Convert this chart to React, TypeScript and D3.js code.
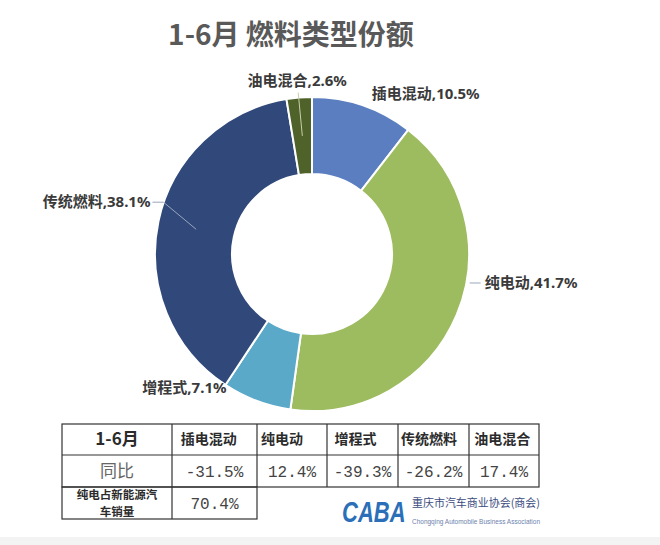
import * as d3 from "d3";

// slice data, clockwise from 12 o'clock
const categories = ["插电混动", "纯电动", "增程式", "传统燃料", "油电混合"];
const shares = [10.5, 41.7, 7.1, 38.1, 2.6];
const colors = ["#5a7ebf", "#9dbb5f", "#5aa9c9", "#30497a", "#4f6229"];

// table
const tableHeadLabel = "1-6月";
const yoyLabel = "同比";
const yoyValues = ["-31.5%", "12.4%", "-39.3%", "-26.2%", "17.4%"];
const bevShareLabel = ["纯电占新能源汽", "车销量"];
const bevShareValue = "70.4%";

// label placement (offsets from outer edge at mid angle)
const labelStyle = [
  { dx: 9, dy: -12, anchor: "start", leader: false },
  { dx: 28, dy: -32, anchor: "start", leader: true },
  { dx: -30, dy: -13, anchor: "end", leader: false },
  { dx: -8, dy: -19, anchor: "end", leader: true },
  { dx: -2, dy: -17, anchor: "middle", leader: true },
];

const W = 660;
const H = 545;
const cx = 312;
const cy = 254;
const rOuter = 157;
const rInner = 80;

const labelFont = "'Noto Sans', 'Noto Sans CJK SC', sans-serif";
const cjk = "'Noto Sans CJK SC', sans-serif";

export default function App() {
  const pie = d3
    .pie<number>()
    .sort(null)
    .value((d) => d);
  const arcs = pie(shares);
  const arc = d3.arc<d3.PieArcDatum<number>>().innerRadius(rInner).outerRadius(rOuter);
  const mid = (a: d3.PieArcDatum<number>) => (a.startAngle + a.endAngle) / 2;
  const polar = (ang: number, r: number): [number, number] => [
    Math.sin(ang) * r,
    -Math.cos(ang) * r,
  ];

  // table geometry
  const colX = [62, 172, 257, 327, 398, 469, 539];
  const rowY = [424, 455, 487, 519];
  const x = d3.scaleBand<number>().domain(d3.range(5)).range([colX[1], colX[6]]);

  return (
    <div style={{ position: "absolute", left: 0, top: 0 }}>
      <svg width={W} height={H} style={{ display: "block", background: "#fff" }}>
        <rect x={0} y={537} width={W} height={8} fill="#f3f3f3" />
        <text
          x={291}
          y={45}
          textAnchor="middle"
          fontFamily={cjk}
          fontWeight="bold"
          fontSize={28}
          fill="#595959"
        >
          1-6月 燃料类型份额
        </text>

        <g transform={`translate(${cx},${cy})`}>
          {arcs.map((a, i) => (
            <path key={i} d={arc(a) ?? ""} fill={colors[i]} stroke="#fff" strokeWidth={2} />
          ))}
          {arcs.map((a, i) => {
            const s = labelStyle[i];
            const [ox, oy] = polar(mid(a), rOuter);
            const lx = ox + s.dx;
            const ly = oy + s.dy;
            const [mx, my] = polar(mid(a), (rOuter + rInner) / 2);
            let leader = "";
            if (s.leader) {
              if (s.anchor === "middle") {
                leader = `M${mx},${my}L${lx + 1},${ly + 12}`;
              } else if (s.anchor === "end") {
                leader = `M${mx},${my}L${lx + 13},${ly}L${lx + 2},${ly}`;
              } else {
                leader = `M${lx - 15},${ly}L${lx - 4},${ly}`;
              }
            }
            return (
              <g key={"l" + i}>
                {leader && (
                  <path d={leader} fill="none" stroke={i === 4 ? "#c9cfae" : "#9aa6bd"} strokeWidth={1} />
                )}
                <text
                  x={lx}
                  y={ly}
                  dy="0.35em"
                  textAnchor={s.anchor}
                  fontFamily={labelFont}
                  fontWeight="bold"
                  fontSize={15}
                  fill="#3a3a3a"
                >
                  {categories[i]},{shares[i].toFixed(1)}%
                </text>
              </g>
            );
          })}
        </g>

        {/* table */}
        <g stroke="#333" strokeWidth={1.2} fill="none">
          <rect x={colX[0]} y={rowY[0]} width={colX[6] - colX[0]} height={rowY[2] - rowY[0]} />
          <line x1={colX[0]} x2={colX[6]} y1={rowY[1]} y2={rowY[1]} />
          {colX.slice(1, 6).map((cxv, i) => (
            <line key={i} x1={cxv} x2={cxv} y1={rowY[0]} y2={rowY[2]} />
          ))}
          <rect x={colX[0]} y={rowY[2]} width={colX[2] - colX[0]} height={rowY[3] - rowY[2]} />
          <line x1={colX[1]} x2={colX[1]} y1={rowY[2]} y2={rowY[3]} />
        </g>
        <g fill="#2b2b2b">
          <text
            x={(colX[0] + colX[1]) / 2}
            y={(rowY[0] + rowY[1]) / 2}
            dy="0.35em"
            textAnchor="middle"
            fontFamily={cjk}
            fontWeight="bold"
            fontSize={17}
          >
            {tableHeadLabel}
          </text>
          {categories.map((c, i) => (
            <text
              key={c}
              x={(x(i) ?? 0) + x.bandwidth() / 2}
              y={(rowY[0] + rowY[1]) / 2}
              dy="0.35em"
              textAnchor="middle"
              fontFamily={cjk}
              fontWeight="bold"
              fontSize={14}
            >
              {c}
            </text>
          ))}
          <text
            x={(colX[0] + colX[1]) / 2}
            y={(rowY[1] + rowY[2]) / 2}
            dy="0.35em"
            textAnchor="middle"
            fontFamily={cjk}
            fontSize={17}
            fill="#666"
          >
            {yoyLabel}
          </text>
          {yoyValues.map((v, i) => (
            <text
              key={i}
              x={(colX[i + 1] + colX[i + 2]) / 2}
              y={(rowY[1] + rowY[2]) / 2}
              dy="0.35em"
              textAnchor="middle"
              fontFamily="'Liberation Mono', monospace"
              fontSize={16}
              fill="#444"
            >
              {v}
            </text>
          ))}
          {bevShareLabel.map((t, i) => (
            <text
              key={i}
              x={(colX[0] + colX[1]) / 2}
              y={rowY[2] + 8 + i * 16.5}
              dy="0.35em"
              textAnchor="middle"
              fontFamily={cjk}
              fontWeight="bold"
              fontSize={11.5}
            >
              {t}
            </text>
          ))}
          <text
            x={(colX[1] + colX[2]) / 2}
            y={(rowY[2] + rowY[3]) / 2}
            dy="0.35em"
            textAnchor="middle"
            fontFamily="'Liberation Mono', monospace"
            fontSize={16}
            fill="#444"
          >
            {bevShareValue}
          </text>
        </g>

        {/* logo */}
        <g>
          <text
            transform="translate(342,522) scale(1,1.35)"
            fontFamily="'Liberation Sans', sans-serif"
            fontWeight="bold"
            fontStyle="italic"
            fontSize={22}
            fill="#2a6fb8"
          >
            CABA
          </text>
          <text
            x={412}
            y={507}
            fontFamily={cjk}
            fontSize={11}
            fill="#3c4d80"
            textLength={128}
            lengthAdjust="spacingAndGlyphs"
          >
            重庆市汽车商业协会(商会)
          </text>
          <text
            x={412}
            y={524}
            fontFamily="'Liberation Sans', sans-serif"
            fontSize={6.5}
            fill="#6d82ad"
            textLength={128}
            lengthAdjust="spacingAndGlyphs"
          >
            Chongqing Automobile Business Association
          </text>
        </g>
      </svg>
    </div>
  );
}
